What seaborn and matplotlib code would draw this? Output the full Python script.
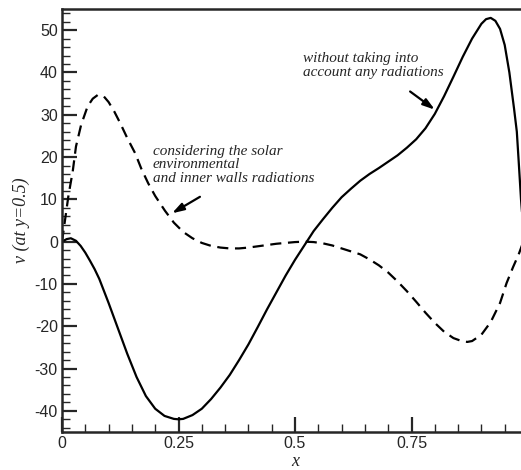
import numpy as np
import pandas as pd
import seaborn as sns
import matplotlib
matplotlib.use("Agg")
import matplotlib.pyplot as plt
from matplotlib.ticker import MultipleLocator, FixedLocator

x_solid = [0, 0.01, 0.019, 0.03, 0.04, 0.05, 0.06, 0.07, 0.08, 0.10, 0.12, 0.14, 0.16, 0.18,
           0.20, 0.22, 0.24, 0.25, 0.26, 0.28, 0.30, 0.32, 0.34, 0.36, 0.38, 0.40,
           0.42, 0.44, 0.46, 0.48, 0.50, 0.52, 0.54, 0.56, 0.58, 0.60, 0.62, 0.64,
           0.66, 0.68, 0.70, 0.72, 0.74, 0.76, 0.78, 0.80, 0.82, 0.84, 0.86, 0.88,
           0.90, 0.91, 0.92, 0.93, 0.94, 0.95, 0.96, 0.97, 0.976, 0.98, 0.985, 0.99, 1.0]
v_solid = [0, 0.6, 0.8, 0.2, -1.0, -2.6, -4.5, -6.5, -8.8, -14.5, -20.5, -26.5, -32.0, -36.5,
           -39.5, -41.2, -41.9, -42.0, -41.9, -41.0, -39.5, -37.2, -34.5, -31.5, -28.0, -24.3,
           -20.2, -16.0, -12.0, -8.0, -4.3, -0.9, 2.5, 5.3, 8.0, 10.5, 12.5, 14.4,
           16.0, 17.4, 18.9, 20.4, 22.2, 24.2, 26.8, 30.2, 34.4, 39.0, 43.7, 48.0,
           51.5, 52.6, 52.9, 52.2, 50.3, 46.5, 40.0, 31.5, 26.0, 19.0, 10.0, 3.0, 0]

x_dash = [0, 0.007, 0.014, 0.023, 0.03, 0.041, 0.055, 0.066, 0.077, 0.09, 0.10,
          0.112, 0.125, 0.14, 0.157, 0.17, 0.185, 0.20, 0.221, 0.24, 0.26, 0.28,
          0.30, 0.32, 0.34, 0.36, 0.38, 0.40, 0.42, 0.44, 0.46, 0.48, 0.50, 0.52,
          0.54, 0.56, 0.58, 0.60, 0.62, 0.64, 0.66, 0.68, 0.70, 0.72, 0.74, 0.76,
          0.78, 0.80, 0.82, 0.84, 0.86, 0.87, 0.88, 0.90, 0.92, 0.94, 0.954, 0.968,
          0.98, 0.99, 1.0]
v_dash = [0, 5.5, 11.0, 16.6, 22.5, 27.6, 32.0, 33.8, 34.7, 34.3, 33.0,
          30.8, 28.0, 24.5, 20.9, 17.3, 13.8, 10.8, 7.3, 4.5, 2.3, 0.8,
          -0.3, -1.0, -1.4, -1.6, -1.6, -1.4, -1.1, -0.8, -0.5, -0.3, -0.1, 0.0,
          -0.1, -0.4, -0.9, -1.6, -2.3, -3.0, -4.2, -5.6, -7.3, -9.4, -11.7, -14.2,
          -16.8, -19.2, -21.3, -22.8, -23.6, -23.7, -23.5, -22.0, -19.0, -14.5, -9.8, -6.0,
          -3.0, 0.0, 3.0]

x_ticks = [0, 0.25, 0.5, 0.75]
x_tick_labels = ["0", "0.25", "0.5", "0.75"]
y_ticks = [-40, -30, -20, -10, 0, 10, 20, 30, 40, 50]

df_solid = pd.DataFrame({"x": x_solid, "v": v_solid})
df_dash = pd.DataFrame({"x": x_dash, "v": v_dash})

sns.set_style("ticks")
plt.rcParams["axes.unicode_minus"] = False
plt.rcParams["font.family"] = ["Liberation Sans", "DejaVu Sans"]

fig = plt.figure(figsize=(5.21, 4.70), dpi=100)
ax = fig.add_axes([62 / 521, 38 / 470, 466 / 521, 423 / 470])

sns.lineplot(data=df_solid, x="x", y="v", ax=ax, color="black", lw=1.6,
             estimator=None, sort=False)
sns.lineplot(data=df_dash, x="x", y="v", ax=ax, color="black", lw=1.6,
             linestyle=(0, (5, 3)), estimator=None, sort=False)

ax.set_xlim(0, 1)
ax.set_ylim(-45, 55)
ax.xaxis.set_major_locator(FixedLocator(x_ticks))
ax.set_xticklabels(x_tick_labels)
ax.xaxis.set_minor_locator(MultipleLocator(0.05))
ax.set_yticks(y_ticks)
ax.yaxis.set_minor_locator(MultipleLocator(2))
ax.tick_params(which="major", direction="in", length=11, width=1.6,
               labelsize=11.5, pad=3, top=False, right=False)
ax.tick_params(which="minor", direction="in", length=6, width=1.0,
               top=False, right=False)
for s in ["left", "bottom", "top"]:
    ax.spines[s].set_linewidth(1.8)
ax.spines["right"].set_visible(False)

serif = dict(family="Liberation Serif", style="italic")
ax.set_xlabel("x", fontsize=13, labelpad=1, **serif)
ax.set_ylabel("v (at y=0.5)", fontsize=13, labelpad=3, **serif)

ax.annotate("", xy=(0.236, 6.7), xytext=(0.296, 10.6),
            arrowprops=dict(arrowstyle="-|>,head_length=0.7,head_width=0.22",
                            color="black", lw=1.6, shrinkA=0, shrinkB=0))
ax.annotate("", xy=(0.80, 31.2), xytext=(0.747, 35.5),
            arrowprops=dict(arrowstyle="-|>,head_length=0.7,head_width=0.22",
                            color="black", lw=1.6, shrinkA=0, shrinkB=0))
ax.text(0.195, 22.9, "considering the solar\nenvironmental\nand inner walls radiations",
        fontsize=11, linespacing=1.06, va="top", ha="left", **serif)
ax.text(0.517, 44.8, "without taking into\naccount any radiations",
        fontsize=11, linespacing=1.06, va="top", ha="left", **serif)

fig.savefig("out.png", dpi=100)
